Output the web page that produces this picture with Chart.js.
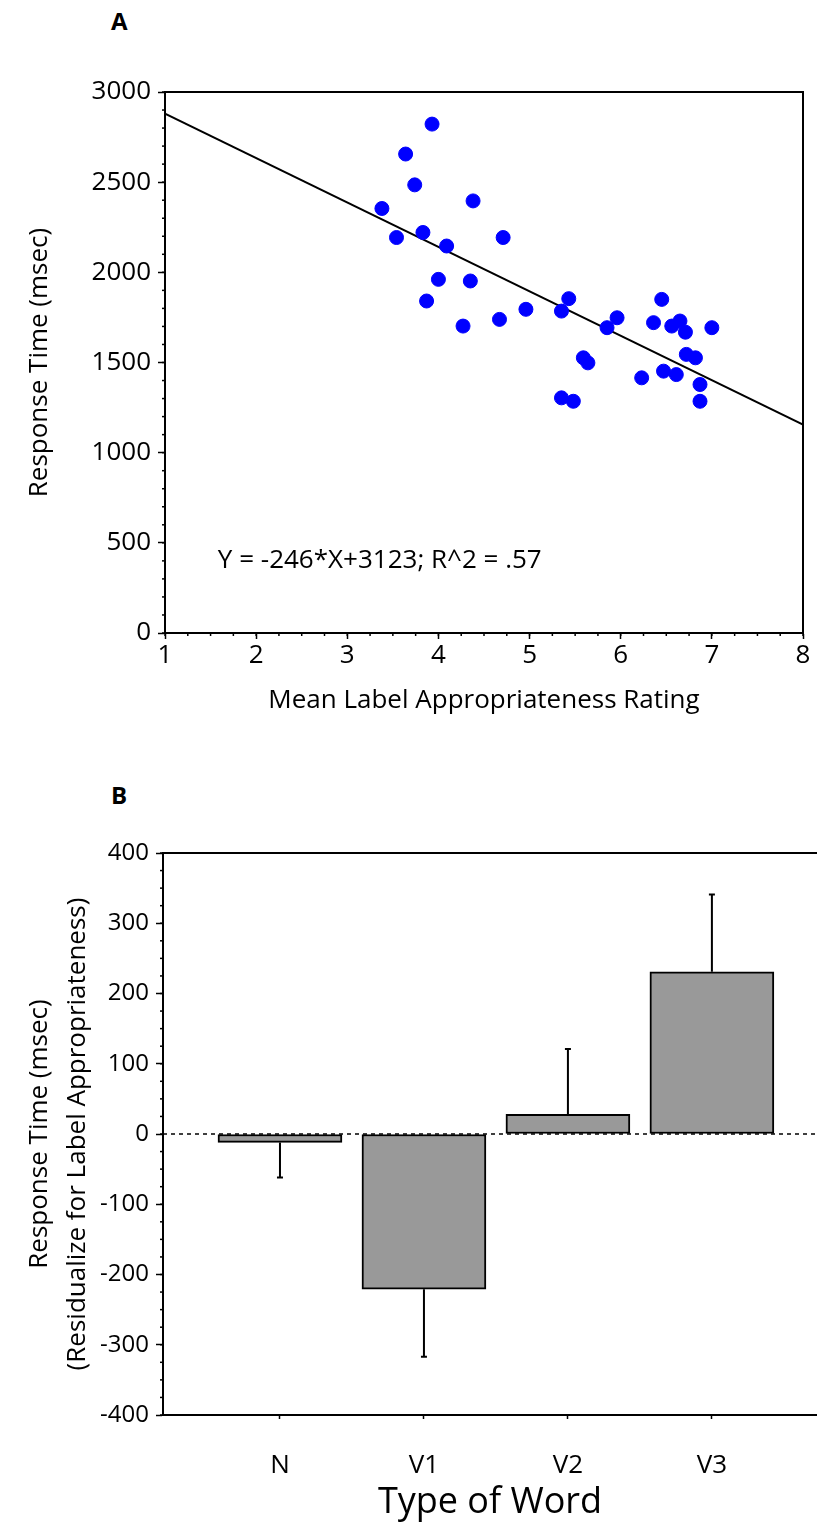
<!DOCTYPE html>
<html>
<head>
<meta charset="utf-8">
<script src="https://cdn.jsdelivr.net/npm/chart.js@4"></script>
<style>
  body { margin: 0; background: #fff; font-family: 'Open Sans', sans-serif; }
  #wrap { position: relative; width: 817px; height: 1529px; }
  canvas { position: absolute; left: 0; }
  .panel { position: absolute; font-weight: bold; font-size: 24px; color: #000; }
</style>
</head>
<body>
<div id="wrap">
  <div class="panel" style="left:111px; top:4px;">A</div>
  <canvas id="chartA" width="817" height="760" style="top:0"></canvas>
  <div class="panel" style="left:111px; top:778px;">B</div>
  <canvas id="chartB" width="817" height="769" style="top:760px"></canvas>
</div>
<script>
// Panel A: mean rating vs response time
const ratingX = [3.93, 3.64, 3.74, 3.38, 4.38, 3.83, 3.54, 4.71, 4.09, 4.00, 4.35, 3.87,
  4.96, 4.67, 4.27, 5.43, 5.35, 5.96, 5.85, 6.45, 6.36, 6.56, 6.65, 6.71, 7.00, 5.59,
  5.64, 6.72, 6.82, 6.23, 6.47, 6.61, 6.87, 6.87, 5.35, 5.48];
const responseY = [2822, 2656, 2485, 2354, 2396, 2221, 2193, 2193, 2146, 1961, 1952, 1841,
  1795, 1739, 1702, 1854, 1785, 1748, 1693, 1850, 1721, 1702, 1730, 1668, 1693, 1526,
  1498, 1545, 1526, 1415, 1452, 1433, 1378, 1285, 1304, 1285];
const fitX = [1, 8];
const fitY = [2880, 1155];
const equationText = 'Y = -246*X+3123; R^2 = .57';

// Panel B: residualized response time by word type
const wordTypes = ['N', 'V1', 'V2', 'V3'];
const residualRT = [-12, -221, 28, 231];
const residualErr = [50, 96, 93, 110];

const FONT = "'Open Sans', sans-serif";

// small ticks between the labelled ones
const minorTicks = {
  id: 'minorTicks',
  afterDraw(chart, args, opts) {
    const ctx = chart.ctx;
    ctx.save();
    ctx.strokeStyle = '#000';
    ctx.lineWidth = 1.5;
    (opts.axes || []).forEach(a => {
      const s = chart.scales[a.id];
      const n = Math.round((s.max - a.from) / a.step);
      for (let i = 0; i <= n; i++) {
        const p = s.getPixelForValue(a.from + i * a.step);
        ctx.beginPath();
        if (s.isHorizontal()) {
          ctx.moveTo(p, s.top);
          ctx.lineTo(p, s.top + a.len);
        } else {
          ctx.moveTo(s.right, p);
          ctx.lineTo(s.right - a.len, p);
        }
        ctx.stroke();
      }
    });
    ctx.restore();
  }
};

// box round the plot (A) or top edge only (B)
const frame = {
  id: 'frame',
  afterDraw(chart, args, opts) {
    const {ctx, chartArea: c} = chart;
    ctx.save();
    ctx.strokeStyle = '#000';
    ctx.lineWidth = 2;
    ctx.beginPath();
    ctx.moveTo(c.left, c.top);
    ctx.lineTo(c.right, c.top);
    if (opts.full) {
      ctx.lineTo(c.right, c.bottom);
    }
    ctx.stroke();
    ctx.restore();
  }
};

const equation = {
  id: 'equation',
  afterDatasetsDraw(chart, args, opts) {
    if (!opts.text) return;
    const ctx = chart.ctx;
    ctx.save();
    ctx.font = '26px ' + FONT;
    ctx.fillStyle = '#000';
    ctx.textBaseline = 'middle';
    ctx.fillText(opts.text, chart.scales.x.getPixelForValue(opts.x), chart.scales.y.getPixelForValue(opts.y));
    ctx.restore();
  }
};

const errorBars = {
  id: 'errorBars',
  beforeDatasetsDraw(chart, args, opts) {
    if (!opts.values) return;
    const {ctx, scales: {x, y}} = chart;
    ctx.save();
    // dashed zero line
    ctx.strokeStyle = '#000';
    ctx.lineWidth = 1.5;
    ctx.setLineDash([4, 4]);
    ctx.beginPath();
    ctx.moveTo(x.left, y.getPixelForValue(0));
    ctx.lineTo(x.right, y.getPixelForValue(0));
    ctx.stroke();
    ctx.restore();
  },
  afterDatasetsDraw(chart, args, opts) {
    if (!opts.values) return;
    const {ctx, scales: {x, y}} = chart;
    ctx.save();
    ctx.strokeStyle = '#000';
    ctx.lineWidth = 2;
    opts.values.forEach((v, i) => {
      const px = x.getPixelForValue(i + 1);
      const y0 = y.getPixelForValue(v);
      const y1 = y.getPixelForValue(v + Math.sign(v) * opts.errors[i]);
      ctx.beginPath();
      ctx.moveTo(px, y0);
      ctx.lineTo(px, y1);
      ctx.moveTo(px - 3, y1);
      ctx.lineTo(px + 3, y1);
      ctx.stroke();
    });
    ctx.restore();
  }
};

function createCharts() {
  new Chart(document.getElementById('chartA'), {
    data: {
      datasets: [
        {
          type: 'scatter',
          data: ratingX.map((x, i) => ({x: x, y: responseY[i]})),
          backgroundColor: '#0000ff',
          borderColor: '#0000ff',
          pointRadius: 7,
          order: 1
        },
        {
          type: 'line',
          data: fitX.map((x, i) => ({x: x, y: fitY[i]})),
          borderColor: '#000',
          borderWidth: 2,
          pointRadius: 0,
          fill: false,
          order: 2
        }
      ]
    },
    options: {
      responsive: false,
      animation: false,
      layout: { padding: { top: 92, right: 14, left: 0, bottom: 0 } },
      plugins: {
        legend: { display: false },
        tooltip: { enabled: false },
        minorTicks: { axes: [
          { id: 'x', from: 1, step: 0.25, len: 3 },
          { id: 'y', from: 0, step: 100, len: 3 }
        ] },
        frame: { full: true },
        equation: { text: equationText, x: 1.58, y: 400 }
      },
      scales: {
        x: {
          type: 'linear',
          min: 1, max: 8,
          ticks: { stepSize: 1, color: '#000', font: { family: FONT, size: 26 }, padding: 1 },
          grid: { drawOnChartArea: false, tickLength: 6, tickColor: '#000', tickWidth: 1.5 },
          border: { color: '#000', width: 2 },
          title: { display: true, text: 'Mean Label Appropriateness Rating', color: '#000',
            font: { family: FONT, size: 26 }, padding: { top: 0, bottom: 44 } },
          afterFit: s => { s.height = 127; }
        },
        y: {
          min: 0, max: 3000,
          ticks: { stepSize: 500, color: '#000', font: { family: FONT, size: 26 }, padding: 7,
            callback: v => String(v) },
          grid: { drawOnChartArea: false, tickLength: 7, tickColor: '#000', tickWidth: 1.5 },
          border: { color: '#000', width: 2 },
          title: { display: true, text: 'Response Time (msec)', color: '#000',
            font: { family: FONT, size: 26 }, padding: { top: 24, bottom: 0 } },
          afterFit: s => { s.width = 165; }
        }
      }
    },
    plugins: [minorTicks, frame, equation]
  });

  new Chart(document.getElementById('chartB'), {
    type: 'bar',
    data: {
      datasets: [{
        data: residualRT.map((v, i) => ({x: i + 1, y: v})),
        backgroundColor: '#999999',
        borderColor: '#000',
        borderWidth: 2,
        borderSkipped: false,
        barThickness: 124
      }]
    },
    options: {
      responsive: false,
      animation: false,
      layout: { padding: { top: 93, right: 0, left: 0, bottom: 0 } },
      plugins: {
        legend: { display: false },
        tooltip: { enabled: false },
        minorTicks: { axes: [ { id: 'y', from: -400, step: 25, len: 3 } ] },
        frame: { full: false },
        errorBars: { values: residualRT, errors: residualErr }
      },
      scales: {
        x: {
          type: 'linear',
          offset: false,
          min: 0.1875, max: 4.73,
          afterBuildTicks: s => { s.ticks = wordTypes.map((w, i) => ({value: i + 1})); },
          ticks: { color: '#000', font: { family: FONT, size: 26 }, padding: 31,
            callback: v => wordTypes[v - 1] },
          grid: { offset: false, drawOnChartArea: false, tickLength: 4, tickColor: '#000', tickWidth: 1.5 },
          border: { color: '#000', width: 2 },
          title: { display: true, text: 'Type of Word', color: '#000',
            font: { family: FONT, size: 36 }, padding: { top: 0, bottom: 5 } },
          afterFit: s => { s.height = 114; }
        },
        y: {
          min: -400, max: 400,
          ticks: { stepSize: 100, color: '#000', font: { family: FONT, size: 24 }, padding: 7 },
          grid: { drawOnChartArea: false, tickLength: 7, tickColor: '#000', tickWidth: 1.5 },
          border: { color: '#000', width: 2 },
          title: { display: true,
            text: ['Response Time (msec)', '(Residualize for Label Appropriateness)'],
            color: '#000', font: { family: FONT, size: 26, lineHeight: 1.45 },
            padding: { top: 21, bottom: 0 } },
          afterFit: s => { s.width = 163; }
        }
      }
    },
    plugins: [minorTicks, frame, errorBars]
  });
}

window.onload = createCharts;
</script>
</body>
</html>
